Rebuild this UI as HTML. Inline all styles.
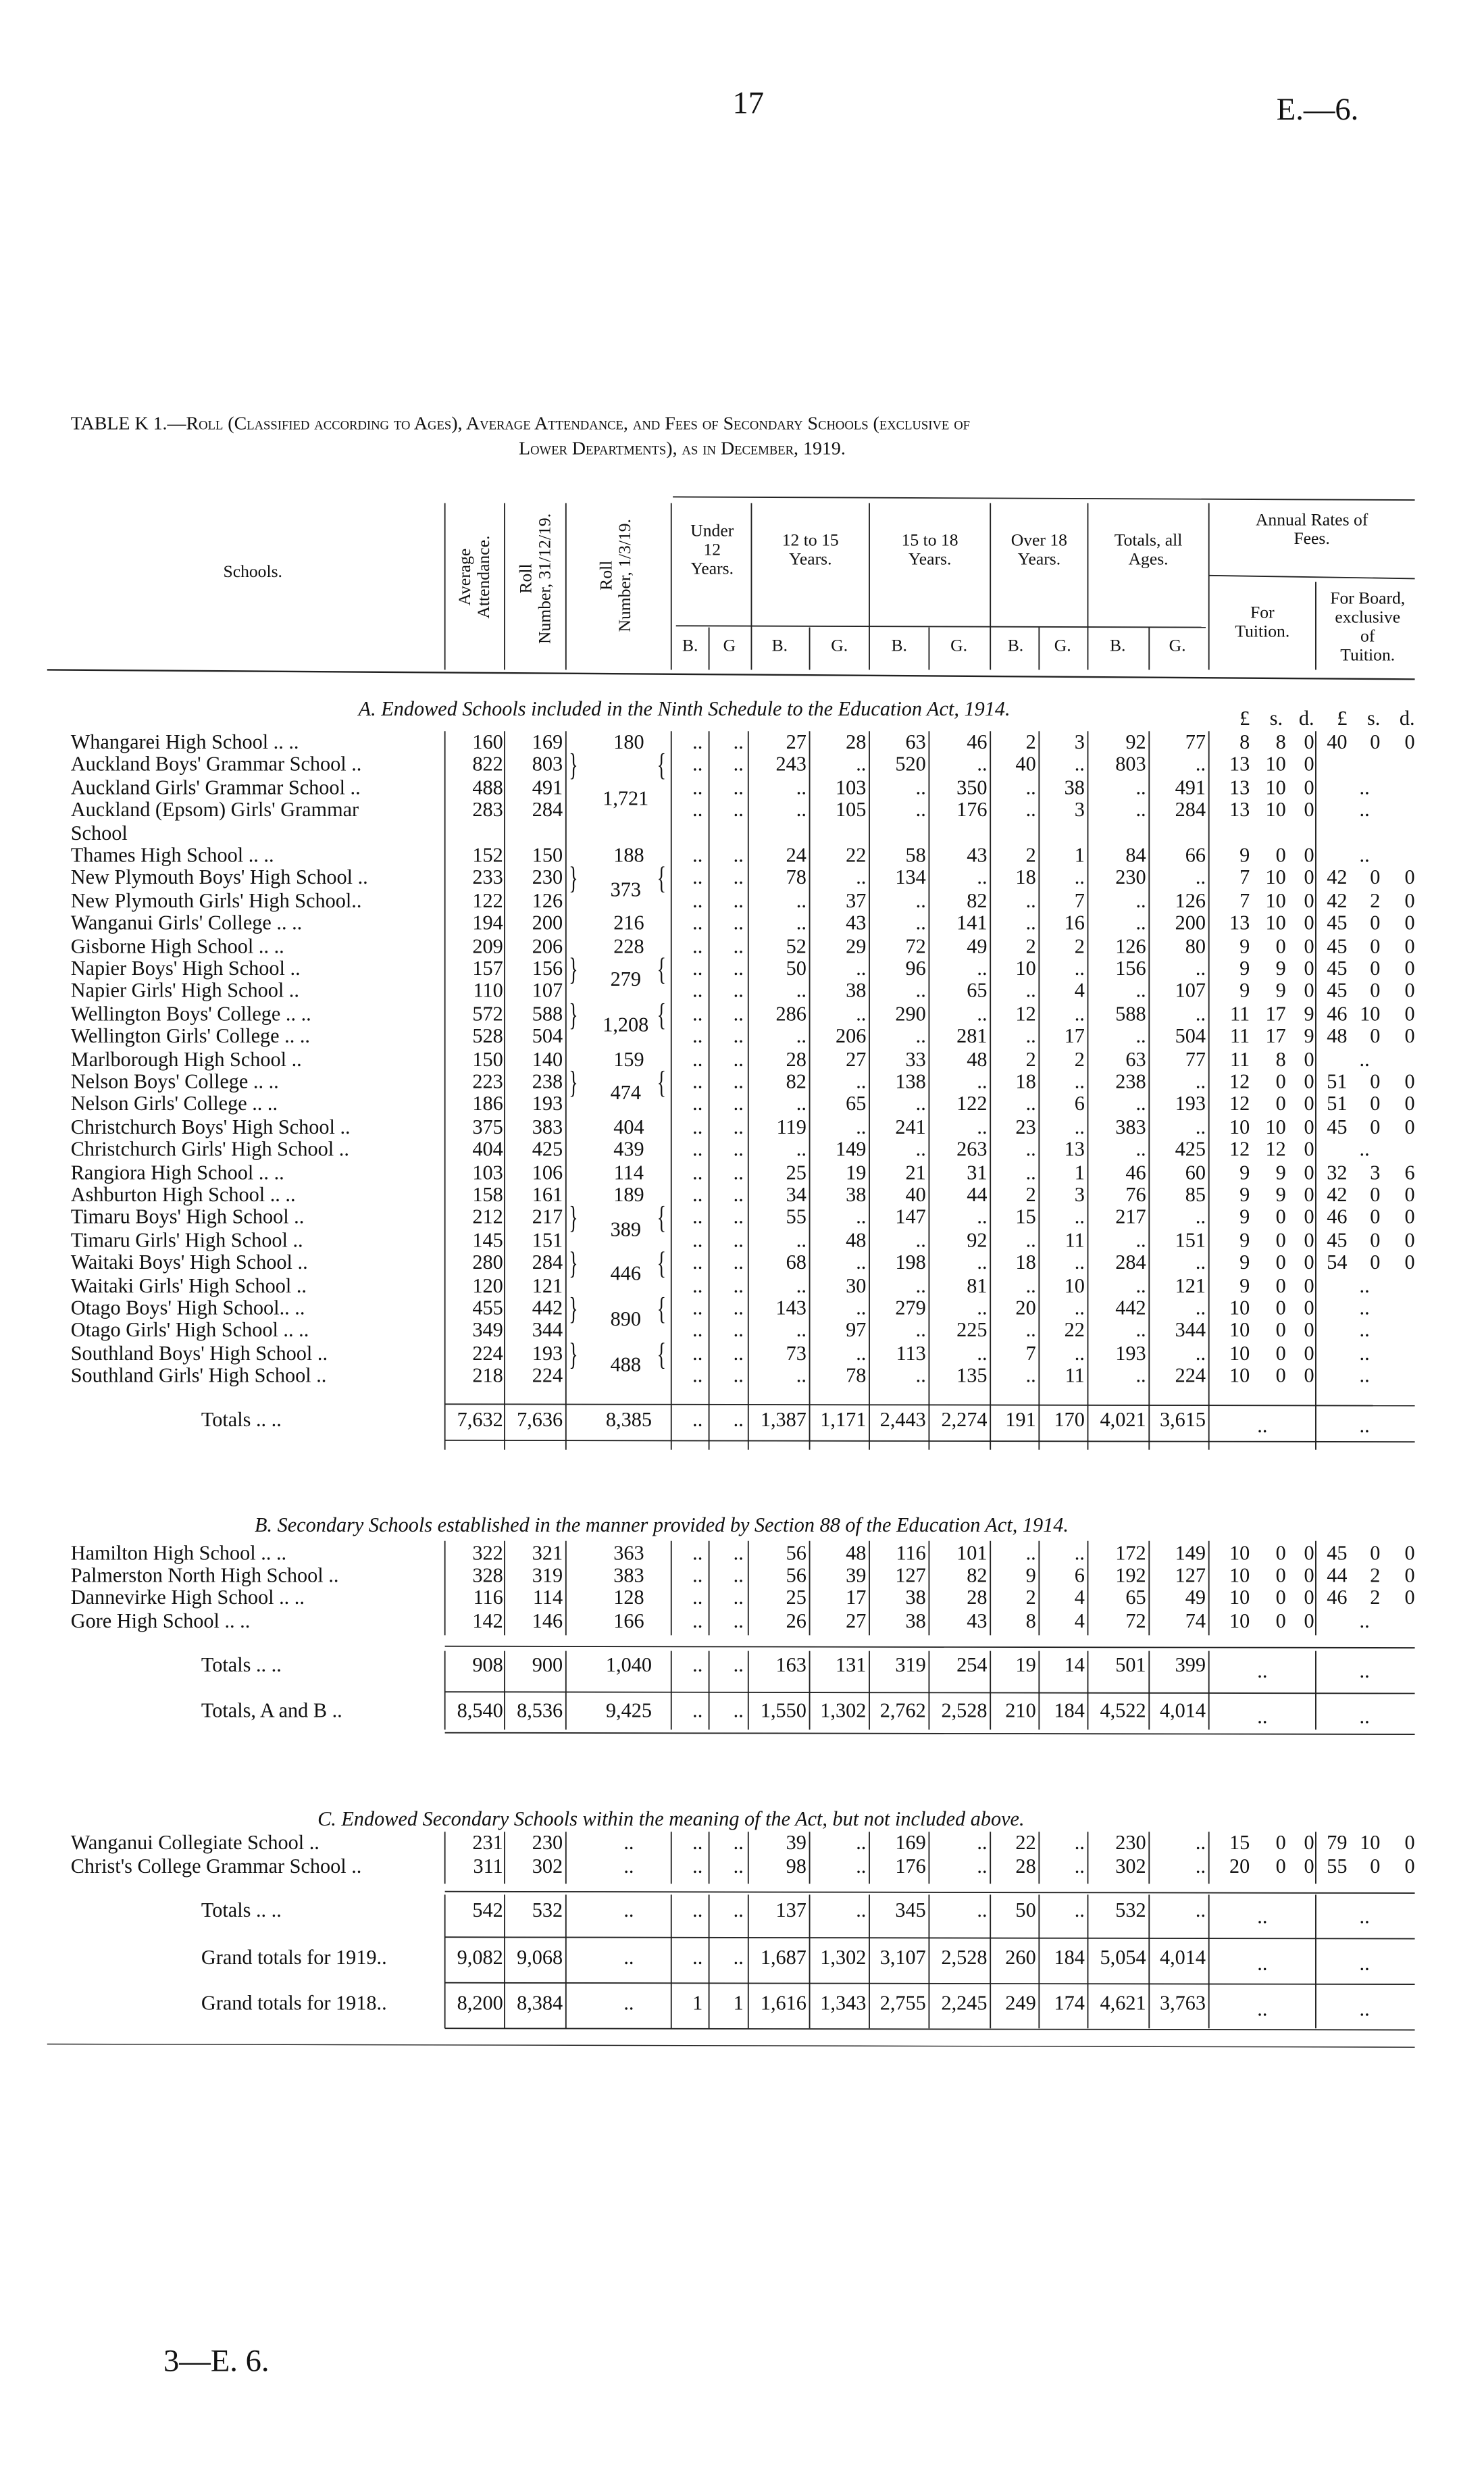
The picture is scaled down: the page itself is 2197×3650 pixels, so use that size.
<!DOCTYPE html>
<html><head><meta charset="utf-8">
<style>
html,body{margin:0;padding:0;background:#fff;}
body{width:2197px;height:3650px;overflow:hidden;position:relative;}
#w{position:absolute;left:0;top:0;width:944px;height:1568px;transform:scale(2.3273);transform-origin:0 0;font-family:"Liberation Serif",serif;color:#111;}
.t{position:absolute;white-space:nowrap;font-size:13px;line-height:16px;}
.r{text-align:right;}
.c{text-align:center;}
.sc{font-variant:small-caps;}
.i{font-style:italic;}
svg{position:absolute;left:0;top:0;}
</style></head><body><div id="w">
<div class="t" style="left:466px;top:54px;font-size:20px;line-height:24px;">17</div>
<div class="t" style="left:812px;top:58px;font-size:20px;line-height:24px;">E.—6.</div>
<div class="t" style="left:45px;top:261px;font-size:12px;">TABLE K 1.—<span class="sc">Roll (Classified according to Ages), Average Attendance, and Fees of Secondary Schools (exclusive of</span></div>
<div class="t" style="left:330px;top:277px;font-size:12px;" ><span class="sc">Lower Departments), as in December, 1919.</span></div>
<div class="t" style="left:142px;top:356px;font-size:11px;">Schools.</div>
<div class="t" style="left:283px;top:310px;width:38px;height:112px;font-size:11px;"><div style="position:absolute;left:7px;top:102px;transform:rotate(-90deg);transform-origin:0 0;line-height:12px;text-align:center;width:90px;">Average<br>Attendance.</div></div>
<div class="t" style="left:321px;top:310px;font-size:11px;"><div style="position:absolute;left:8px;top:108px;transform:rotate(-90deg);transform-origin:0 0;line-height:12px;text-align:center;width:100px;">Roll<br>Number, 31/12/19.</div></div>
<div class="t" style="left:360px;top:310px;font-size:11px;"><div style="position:absolute;left:20px;top:104px;transform:rotate(-90deg);transform-origin:0 0;line-height:12px;text-align:center;width:96px;">Roll<br>Number, 1/3/19.</div></div>
<div class="t c" style="left:428px;top:332px;width:50px;font-size:11px;line-height:12px;">Under<br>12<br>Years.</div>
<div class="t c" style="left:478px;top:338px;width:75px;font-size:11px;line-height:12px;">12 to 15<br>Years.</div>
<div class="t c" style="left:553px;top:338px;width:77px;font-size:11px;line-height:12px;">15 to 18<br>Years.</div>
<div class="t c" style="left:630px;top:338px;width:62px;font-size:11px;line-height:12px;">Over 18<br>Years.</div>
<div class="t c" style="left:692px;top:338px;width:77px;font-size:11px;line-height:12px;">Totals, all<br>Ages.</div>
<div class="t c" style="left:769px;top:325px;width:131px;font-size:11px;line-height:12px;">Annual Rates of<br>Fees.</div>
<div class="t c" style="left:769px;top:384px;width:68px;font-size:11px;line-height:12px;">For<br>Tuition.</div>
<div class="t c" style="left:837px;top:375px;width:66px;font-size:11px;line-height:12px;">For Board,<br>exclusive<br>of<br>Tuition.</div>
<div id="rows"></div>
<div class="t i" style="left:228px;top:443px;">A. <span>Endowed Schools included in the Ninth Schedule to the Education Act, 1914.</span></div>
<div class="t i" style="left:162px;top:962px;">B. Secondary Schools established in the manner provided by Section 88 of the Education Act, 1914.</div>
<div class="t i" style="left:202px;top:1149px;">C. Endowed Secondary Schools within the meaning of the Act, but not included above.</div>
<div class="t" style="left:104px;top:1490px;font-size:20px;line-height:24px;">3—E. 6.</div>
<svg id="sv" width="944" height="1568" viewBox="0 0 944 1568"></svg>
</div>
<script>
var W=document.getElementById('rows');
function T(x,y,s,cls,extra){var d=document.createElement('div');d.className='t '+(cls||'');d.style.top=(y-8)+'px';
 if(cls&&cls.indexOf('r')>=0){d.style.left=(x-80)+'px';d.style.width='80px';}
 else if(cls&&cls.indexOf('c')>=0){d.style.left=(x-40)+'px';d.style.width='80px';}
 else d.style.left=x+'px';
 d.textContent=s;if(extra)d.style.cssText+=extra;W.appendChild(d);}
var R=[320,358,400,447,473,513,551,589,628,659,690,729,767,795,818,836,857,878,900];
function row(y,name,vals,nameX){
 T(nameX||45,y,name);
 for(var i=0;i<vals.length;i++){var v=vals[i];if(v===null||v==='')continue;
  if(i==2)T(400,y,v,'c');else T(R[i],y,v,'r');}
}
var A=[
["Whangarei High School  ..        ..","160 169 180 .. .. 27 28 63 46 2 3 92 77 8 8 0 40 0 0"],
["Auckland Boys' Grammar School ..","822 803 _ .. .. 243 .. 520 .. 40 .. 803 .. 13 10 0 _ _ _"],
["Auckland Girls' Grammar School ..","488 491 _ .. .. .. 103 .. 350 .. 38 .. 491 13 10 0 _ .. _"],
["Auckland (Epsom) Girls' Grammar","283 284 _ .. .. .. 105 .. 176 .. 3 .. 284 13 10 0 _ .. _"],
["School",""],
["Thames High School        ..        ..","152 150 188 .. .. 24 22 58 43 2 1 84 66 9 0 0 _ .. _"],
["New Plymouth Boys' High School ..","233 230 _ .. .. 78 .. 134 .. 18 .. 230 .. 7 10 0 42 0 0"],
["New Plymouth Girls' High School..","122 126 _ .. .. .. 37 .. 82 .. 7 .. 126 7 10 0 42 2 0"],
["Wanganui Girls' College ..        ..","194 200 216 .. .. .. 43 .. 141 .. 16 .. 200 13 10 0 45 0 0"],
["Gisborne High School      ..        ..","209 206 228 .. .. 52 29 72 49 2 2 126 80 9 0 0 45 0 0"],
["Napier Boys' High School        ..","157 156 _ .. .. 50 .. 96 .. 10 .. 156 .. 9 9 0 45 0 0"],
["Napier Girls' High School       ..","110 107 _ .. .. .. 38 .. 65 .. 4 .. 107 9 9 0 45 0 0"],
["Wellington Boys' College ..     ..","572 588 _ .. .. 286 .. 290 .. 12 .. 588 .. 11 17 9 46 10 0"],
["Wellington Girls' College ..    ..","528 504 _ .. .. .. 206 .. 281 .. 17 .. 504 11 17 9 48 0 0"],
["Marlborough High School        ..","150 140 159 .. .. 28 27 33 48 2 2 63 77 11 8 0 _ .. _"],
["Nelson Boys' College      ..        ..","223 238 _ .. .. 82 .. 138 .. 18 .. 238 .. 12 0 0 51 0 0"],
["Nelson Girls' College     ..        ..","186 193 _ .. .. .. 65 .. 122 .. 6 .. 193 12 0 0 51 0 0"],
["Christchurch Boys' High School  ..","375 383 404 .. .. 119 .. 241 .. 23 .. 383 .. 10 10 0 45 0 0"],
["Christchurch Girls' High School   ..","404 425 439 .. .. .. 149 .. 263 .. 13 .. 425 12 12 0 _ .. _"],
["Rangiora High School      ..        ..","103 106 114 .. .. 25 19 21 31 .. 1 46 60 9 9 0 32 3 6"],
["Ashburton High School  ..        ..","158 161 189 .. .. 34 38 40 44 2 3 76 85 9 9 0 42 0 0"],
["Timaru Boys' High School        ..","212 217 _ .. .. 55 .. 147 .. 15 .. 217 .. 9 0 0 46 0 0"],
["Timaru Girls' High School       ..","145 151 _ .. .. .. 48 .. 92 .. 11 .. 151 9 0 0 45 0 0"],
["Waitaki Boys' High School       ..","280 284 _ .. .. 68 .. 198 .. 18 .. 284 .. 9 0 0 54 0 0"],
["Waitaki Girls' High School      ..","120 121 _ .. .. .. 30 .. 81 .. 10 .. 121 9 0 0 _ .. _"],
["Otago Boys' High School..        ..","455 442 _ .. .. 143 .. 279 .. 20 .. 442 .. 10 0 0 _ .. _"],
["Otago Girls' High School ..      ..","349 344 _ .. .. .. 97 .. 225 .. 22 .. 344 10 0 0 _ .. _"],
["Southland Boys' High School   ..","224 193 _ .. .. 73 .. 113 .. 7 .. 193 .. 10 0 0 _ .. _"],
["Southland Girls' High School   ..","218 224 _ .. .. .. 78 .. 135 .. 11 .. 224 10 0 0 _ .. _"]
];
function put(y,name,str,nx){var v=str?str.split(' ').map(function(s){return s=='_'?null:s;}):[];
 var out=v.slice();
 if(out.length==19&&out[16]===null&&out[17]==='..'){out[17]=null;T(868,y,'..','c');}
 row(y,name,out,nx);}
for(var k=0;k<A.length;k++)put(472+k*14.4,A[k][0],A[k][1]);
var M=[[1,2.5,'1,721'],[6,6.5,'373'],[10,10.5,'279'],[12,12.5,'1,208'],[15,15.5,'474'],[21,21.5,'389'],[23,23.5,'446'],[25,25.5,'890'],[27,27.5,'488']];
M.forEach(function(m){var y=472+m[1]*14.4;T(398,y,m[2],'c');});
T(795,457,'£','r');T(816,457,'s.','r');T(836,457,'d.','r');T(857,457,'£','r');T(878,457,'s.','r');T(900,457,'d.','r');
// B/G header labels
[[439,'B.'],[464,'G'],[496,'B.'],[534,'G.'],[572,'B.'],[610,'G.'],[646,'B.'],[676,'G.'],[711,'B.'],[749,'G.']].forEach(function(b){T(b[0],411,b[1],'c',';font-size:11px;');});
put(903,"Totals      ..      ..","7,632 7,636 8,385 .. .. 1,387 1,171 2,443 2,274 191 170 4,021 3,615",128);
T(803,907,'..','c');T(868,907,'..','c');
var B=[["Hamilton High School     ..        ..","322 321 363 .. .. 56 48 116 101 .. .. 172 149 10 0 0 45 0 0"],
["Palmerston North High School    ..","328 319 383 .. .. 56 39 127 82 9 6 192 127 10 0 0 44 2 0"],
["Dannevirke High School ..        ..","116 114 128 .. .. 25 17 38 28 2 4 65 49 10 0 0 46 2 0"],
["Gore High School           ..        ..","142 146 166 .. .. 26 27 38 43 8 4 72 74 10 0 0 _ .. _"]];
for(k=0;k<4;k++)put(988+k*14.2,B[k][0],B[k][1]);
put(1059,"Totals      ..      ..","908 900 1,040 .. .. 163 131 319 254 19 14 501 399",128);
T(803,1063,'..','c');T(868,1063,'..','c');
put(1088,"Totals, A and B      ..","8,540 8,536 9,425 .. .. 1,550 1,302 2,762 2,528 210 184 4,522 4,014",128);
T(803,1092,'..','c');T(868,1092,'..','c');
put(1172,"Wanganui Collegiate School      ..","231 230 .. .. .. 39 .. 169 .. 22 .. 230 .. 15 0 0 79 10 0");
put(1187,"Christ's College Grammar School ..","311 302 .. .. .. 98 .. 176 .. 28 .. 302 .. 20 0 0 55 0 0");
put(1215,"Totals      ..      ..","542 532 .. .. .. 137 .. 345 .. 50 .. 532 ..",128);
T(803,1219,'..','c');T(868,1219,'..','c');
put(1245,"Grand totals for 1919..","9,082 9,068 .. .. .. 1,687 1,302 3,107 2,528 260 184 5,054 4,014",128);
T(803,1249,'..','c');T(868,1249,'..','c');
put(1274,"Grand totals for 1918..","8,200 8,384 .. 1 1 1,616 1,343 2,755 2,245 249 174 4,621 3,763",128);
T(803,1278,'..','c');T(868,1278,'..','c');
var br=[[1,3],[6,7],[10,11],[12,13],[15,16],[21,22],[23,24],[25,26],[27,28]];
br.forEach(function(b){var y=472+b[0]*14.4;T(360,y+6,'}','',';font-size:20px;line-height:22px;top:'+(y-10)+'px;transform:scaleX(.6)');
 T(416,y+6,'{','',';font-size:20px;line-height:22px;top:'+(y-10)+'px;transform:scaleX(.6)');});
var s='';
function L(x1,y1,x2,y2,w){s+='<line x1="'+x1+'" y1="'+y1+'" x2="'+x2+'" y2="'+y2+'" stroke="#222" stroke-width="'+(w||0.8)+'"/>';}
L(428,316,900,318);L(30,426,900,432,1);
[283,321,360,427,478,553,630,692,769].forEach(function(x){L(x,320,x,426);});
[451,515,591,661,731].forEach(function(x){L(x,399,x,426);});
L(837,370,837,426);
L(430,398,767,399);L(769,366,900,368);
var secs=[[465,922],[980,1040],[1050,1100],[1165,1198],[1205,1290]];
var VA=[283,321,360,427,451,476,515,553,591,630,661,692,731,769,837];
secs.forEach(function(sc){VA.forEach(function(x){L(x,sc[0],x,sc[1]);});});
[[893,900],[916,900],[1047,900],[1076,900],[1102,900],[1203,900],[1232,900],[1261,900],[1290,900]].forEach(function(h){L(283,h[0],h[1],h[0]+1);});
L(30,1300,900,1302,0.6);
document.getElementById('sv').innerHTML=s;
</script>
</div></body></html>
